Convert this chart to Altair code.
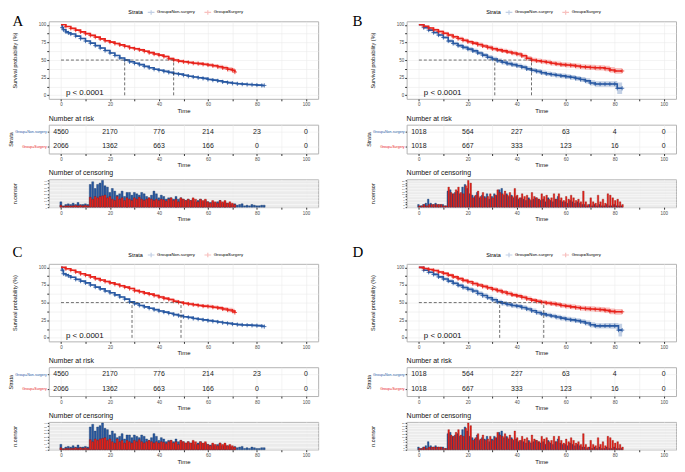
import altair as alt
import pandas as pd

BLUE = "#2A5AA3"
RED = "#E8231C"
GROUPS = ["Group=Non-surgery", "Group=Surgery"]
FONT = "Liberation Sans"
PLUS = "M-1,0L1,0M0,-1L0,1"
LEG_SYM = "M-1,0L1,0M0,-0.7L0,0.7"

# ---------------- Panel A ----------------
A_NS_T = [0, 0.5, 1, 2, 3, 4, 6, 8, 10, 12, 14, 16, 18, 20, 22, 24, 26, 28, 30, 32, 34, 36, 38, 40, 42, 44,
          46, 48, 50, 52, 54, 56, 58, 60, 62, 64, 66, 68, 70, 72, 74, 76, 78, 80, 82, 83]
A_NS_S = [100, 96, 93, 90, 88.5, 87, 84, 80.5, 77, 74, 70.5, 67, 63.5, 60, 56.5, 53, 50, 47.5, 45.5, 43.5, 41,
          39, 37, 35.5, 34, 32.5, 31, 30, 28.5, 27, 26, 25, 24, 22.5, 21.5, 20.5, 19, 18, 17, 16.3, 15.8, 15.3,
          15, 14.5, 14, 14]
A_NS_CI = [0, 0.6, 0.7, 0.8, 0.8, 0.9, 0.9, 1, 1, 1, 1, 1, 1, 1.1, 1.1, 1.1, 1.1, 1.1, 1.1, 1.1, 1.1, 1.1, 1.1,
           1.1, 1.1, 1.1, 1.1, 1.1, 1.1, 1.1, 1.1, 1.2, 1.2, 1.2, 1.2, 1.2, 1.3, 1.3, 1.3, 1.4, 1.4, 1.5, 1.5,
           1.6, 1.8, 1.8]
A_S_T = [0, 2, 4, 6, 8, 10, 12, 14, 16, 18, 20, 22, 24, 26, 28, 30, 32, 34, 36, 38, 40, 42, 44, 46, 48, 50,
         52, 54, 56, 58, 60, 62, 64, 66, 68, 70, 71]
A_S_S = [100, 97.5, 95, 92.5, 90, 87.5, 85, 82.5, 80, 77.5, 75.5, 73.5, 71.5, 69.5, 67.5, 66, 64.5, 62.5, 60.5,
         58.5, 57, 55, 52, 50, 48.5, 47.5, 46.5, 45.5, 45, 44, 43, 42, 40.5, 39, 37, 35.5, 33]
A_S_CI = [0, 0.6, 0.8, 0.9, 1, 1.1, 1.2, 1.2, 1.3, 1.3, 1.4, 1.4, 1.4, 1.5, 1.5, 1.5, 1.6, 1.6, 1.6, 1.7, 1.7,
          1.8, 1.8, 1.9, 1.9, 2, 2, 2.1, 2.2, 2.3, 2.4, 2.5, 2.7, 2.9, 3.1, 3.3, 3.5]
A_MEDIANS = [26, 46]

# ---------------- Panel C ----------------
C_NS_T = A_NS_T
C_NS_S = [100, 96, 91, 89.5, 88, 86, 83, 80.5, 78, 75, 72, 69.5, 66.5, 64, 61, 58, 55, 51, 48.5, 46, 44, 42, 40,
          38, 36.5, 35, 33, 31.5, 30, 29, 27.5, 26.5, 25.5, 24.5, 23.5, 22.5, 21.5, 20.5, 19.5, 18.8, 18.3, 18,
          17.7, 17.3, 16.5, 16]
C_NS_CI = A_NS_CI
C_S_T = A_S_T
C_S_S = [100, 98, 96, 93.5, 91, 89, 86.5, 84, 82, 80, 78, 76, 74, 72, 70, 67, 65.5, 63.5, 62, 60, 58, 56, 54.5,
         52, 50.5, 49, 48, 47, 46, 45, 44.5, 43.5, 42.5, 41, 39.5, 38, 36]
C_S_CI = A_S_CI
C_MEDIANS = [29, 49]

# ---------------- Panel B ----------------
B_NS_T = [0, 2, 4, 6, 8, 10, 12, 14, 16, 18, 20, 22, 24, 26, 28, 30, 32, 34, 36, 38, 40, 42, 44, 46, 48, 50,
          52, 54, 56, 58, 60, 62, 64, 66, 68, 70, 72, 74, 76, 78, 80, 81, 83]
B_NS_S = [100, 96, 92.5, 89, 85.5, 82, 77, 73.5, 70.5, 68, 65.5, 63, 60, 57, 54, 51.5, 49, 47, 45, 43.5, 42, 40,
          37.5, 35.5, 34, 32, 30.5, 29.5, 28.5, 27.5, 26.5, 25.5, 24, 22.5, 20.5, 17.5, 16, 16, 16, 16, 16, 10, 10]
B_NS_CI = [0, 1.2, 1.6, 1.9, 2.1, 2.3, 2.5, 2.6, 2.7, 2.8, 2.9, 3, 3, 3.1, 3.1, 3.1, 3.2, 3.2, 3.2, 3.2, 3.2,
           3.2, 3.2, 3.2, 3.2, 3.2, 3.2, 3.2, 3.3, 3.3, 3.3, 3.4, 3.4, 3.5, 3.6, 3.7, 3.8, 3.8, 3.9, 4, 4.2, 8, 8]
B_S_T = [0, 2, 4, 6, 8, 10, 12, 14, 16, 18, 20, 22, 24, 26, 28, 30, 32, 34, 36, 38, 40, 42, 44, 46, 48, 50,
         52, 54, 56, 58, 60, 62, 64, 66, 68, 70, 72, 74, 76, 78, 80, 83]
B_S_S = [100, 98, 95.5, 93, 90.5, 88, 85.5, 83, 80.5, 78, 76, 74, 72, 70, 68, 66, 64.5, 63, 61.5, 60, 58.5, 56,
         52.5, 50, 49, 48, 47, 45.5, 44.5, 43.5, 43, 42.5, 41.5, 40.5, 40, 39.5, 39, 39, 38, 36, 34.5, 34.5]
B_S_CI = [0, 0.9, 1.3, 1.6, 1.8, 2, 2.2, 2.3, 2.4, 2.5, 2.6, 2.7, 2.8, 2.8, 2.9, 2.9, 3, 3, 3, 3.1, 3.1, 3.1,
          3.2, 3.2, 3.2, 3.3, 3.3, 3.3, 3.4, 3.4, 3.4, 3.5, 3.5, 3.6, 3.6, 3.7, 3.7, 3.8, 3.9, 4, 4.1, 4.1]
B_MEDIANS = [31, 46]

# ---------------- Panel D ----------------
D_NS_T = [0, 2, 4, 6, 8, 10, 12, 14, 16, 18, 20, 22, 24, 26, 28, 30, 32, 34, 36, 38, 40, 42, 44, 46, 48, 50,
          52, 54, 56, 58, 60, 62, 64, 66, 68, 70, 72, 74, 76, 78, 80, 81.5, 83]
D_NS_S = [100, 96, 93, 90, 86.5, 83.5, 80.5, 77.5, 74.5, 71.5, 69, 66.5, 63, 60, 57, 54, 51, 49, 47.5, 46, 45,
          43, 41, 38.5, 36, 34, 32.5, 31, 29.5, 28, 26.5, 25.5, 24.5, 23, 21, 18.5, 17, 17, 17, 17, 17, 11, 11]
D_NS_CI = [0, 1.2, 1.6, 1.9, 2.1, 2.3, 2.5, 2.6, 2.7, 2.8, 2.9, 3, 3, 3.1, 3.1, 3.1, 3.2, 3.2, 3.2, 3.2, 3.2,
           3.2, 3.2, 3.2, 3.2, 3.2, 3.2, 3.2, 3.3, 3.3, 3.3, 3.4, 3.4, 3.5, 3.6, 3.7, 3.8, 3.8, 3.9, 4, 4.2, 9, 9]
D_S_T = B_S_T
D_S_S = [100, 98.5, 97, 95.5, 93.5, 91.5, 89, 86.5, 84, 81.5, 79.5, 77, 75, 73, 71, 69, 67, 65, 63, 61, 59.5,
         57.5, 55.5, 53.5, 52, 50.5, 49.5, 48.5, 47.5, 46, 45, 44, 43, 42, 41.5, 41, 40.5, 40, 39, 37.5, 37, 37]
D_S_CI = B_S_CI
D_MEDIANS = [33, 51]

# ---------------- Number at risk ----------------
RISK_TIMES = [0, 20, 40, 60, 80, 100]
AC_RISK_NS = [4560, 2170, 776, 214, 23, 0]
AC_RISK_S = [2066, 1362, 663, 166, 0, 0]
BD_RISK_NS = [1018, 564, 227, 63, 4, 0]
BD_RISK_S = [1018, 667, 333, 123, 16, 0]

# ---------------- Number of censoring (per month, from month 0) ----------------
AC_CENS_NS = [8, 2, 4, 5, 4, 6, 4, 7, 4, 4, 5, 4,
              34, 38, 28, 34, 36, 40, 32, 30, 22, 28, 24, 18,
              20, 24, 16, 22, 22, 18, 22, 20, 18, 22, 20, 16,
              14, 18, 24, 20, 14, 18, 16, 12, 14, 14, 12, 16,
              12, 14, 12, 10, 12, 10, 12, 8, 10, 12, 8, 10,
              8, 7, 8, 6, 8, 10, 6, 8, 6, 5, 4, 5,
              3, 4, 5, 2, 3, 2, 4, 3, 2, 2, 3, 3]
AC_CENS_S = [3, 1, 2, 2, 2, 2, 3, 2, 3, 2, 3, 2,
             15, 12, 16, 14, 16, 17, 18, 14, 16, 12, 10, 16,
             12, 14, 10, 14, 12, 10, 14, 12, 15, 12, 10, 12,
             14, 12, 10, 12, 10, 12, 11, 9, 12, 14, 10, 12,
             8, 14, 12, 10, 12, 10, 14, 12, 8, 12, 10, 12,
             8, 6, 10, 8, 6, 10, 8, 10, 6, 8, 6, 4]
BD_CENS_NS = [2, 1, 2, 3, 6, 3, 2, 3, 2, 2, 2, 1,
              12, 13, 10, 11, 12, 10, 15, 17, 14, 10, 9, 8,
              11, 7, 9, 8, 10, 6, 8, 10, 9, 13, 14, 9,
              10, 8, 9, 7, 8, 6, 7, 6, 5, 7, 5, 6,
              7, 6, 5, 6, 4, 7, 5, 4, 6, 8, 5, 4,
              4, 3, 5, 4, 3, 4, 3, 2, 2, 1, 2, 1,
              2, 1, 2, 1, 1, 2, 1, 1, 2, 1, 1, 1]
BD_CENS_S = [1, 1, 2, 1, 2, 2, 2, 2, 2, 2, 1, 1,
             15, 11, 10, 13, 15, 11, 10, 16, 20, 18, 7, 9,
             12, 8, 11, 7, 8, 10, 7, 9, 13, 11, 10, 12,
             9, 11, 8, 14, 9, 7, 10, 8, 9, 6, 11, 8,
             7, 6, 10, 8, 9, 6, 7, 10, 6, 10, 7, 5,
             8, 6, 9, 7, 5, 6, 4, 12, 4, 2, 7, 4,
             3, 9, 4, 6, 3, 10, 9, 7, 5, 6, 4, 2]

W = 271
H_KM = 78
H_RISK = 29
H_CENS = 28

XSCALE = alt.Scale(domain=[-5, 105], nice=False, zero=False)
YSCALE = alt.Scale(domain=[-5, 105], nice=False, zero=False)
X_VALUES = [0, 10, 20, 30, 40, 50, 60, 70, 80, 90, 100]
COLOR_SCALE = alt.Scale(domain=GROUPS, range=[BLUE, RED])


def x_axis():
    return alt.Axis(values=X_VALUES, labelExpr="datum.value % 20 === 0 ? datum.label : ''",
                    title="Time", titlePadding=1, labelOverlap=False)


def km_yaxis():
    return alt.Axis(values=[0, 12.5, 25, 37.5, 50, 62.5, 75, 87.5, 100],
                    labelExpr="datum.value % 25 === 0 ? datum.label : ''", labelOverlap=False,
                    title="Survival probability (%)", titleFontSize=5.5, titlePadding=21)


def km_frame(t, s, ci, g):
    return pd.DataFrame({
        "time": t, "surv": s,
        "lo": [max(a - b, 0) for a, b in zip(s, ci)],
        "hi": [min(a + b, 100) for a, b in zip(s, ci)],
        "group": g,
    })


def KX(field, **kw):
    return alt.X(field, scale=XSCALE, axis=x_axis(), title="Time", **kw)


def KY(field, **kw):
    return alt.Y(field, scale=YSCALE, axis=km_yaxis(), title="Survival probability (%)", **kw)


def km_chart(letter, ns, su, medians, dx, toff):
    df = pd.concat([ns, su], ignore_index=True)
    base = alt.Chart(df)
    legend = alt.Legend(title="Strata", orient="none", legendX=80, legendY=-13, direction="horizontal",
                        titleOrient="left", titleFontSize=5.5, titleFontWeight="normal", labelFontSize=4.3,
                        symbolType=LEG_SYM, symbolSize=45, symbolStrokeWidth=1.2, columnPadding=6,
                        titlePadding=4, labelOffset=2)
    color = alt.Color("group:N", scale=COLOR_SCALE, legend=legend, title="Strata")
    band = base.mark_area(opacity=0.28, interpolate="step-after").encode(
        x=KX("time:Q"), y=KY("lo:Q"), y2="hi:Q", color=color)
    line = base.mark_line(interpolate="step-after", strokeWidth=1.6).encode(
        x=KX("time:Q"), y=KY("surv:Q"), color=color)
    pts = base.transform_filter("datum.time > 0").mark_point(
        shape=PLUS, filled=False, size=18, strokeWidth=0.8, opacity=1).encode(
        x=KX("time:Q"), y=KY("surv:Q"), color=color)
    med = pd.DataFrame({"median": medians})
    hrule = alt.Chart(med).transform_aggregate(m="max(median)").transform_calculate(
        x0="0", y50="50").mark_rule(strokeDash=[3, 2], color="#333", strokeWidth=0.7).encode(
        x=KX("x0:Q"), x2="m:Q", y=KY("y50:Q"))
    vrule = alt.Chart(med).transform_calculate(y0="0", y50="50").mark_rule(
        strokeDash=[3, 2], color="#333", strokeWidth=0.7).encode(
        x=KX("median:Q"), y=KY("y0:Q"), y2="y50:Q")
    ptxt = alt.Chart(pd.DataFrame({"label": ["p < 0.0001"], "px": [2], "py": [3]})).mark_text(
        align="left", baseline="middle", fontSize=8, color="#111").encode(
        x=KX("px:Q"), y=KY("py:Q"), text="label:N")
    return alt.layer(band, line, pts, hrule, vrule, ptxt).properties(
        width=W, height=H_KM,
        title=alt.TitleParams(letter, anchor="start", frame="bounds", font="Liberation Serif", fontSize=15,
                              fontWeight="normal", color="#000", dx=dx, offset=toff))


def risk_chart(ns, su):
    rows = []
    for g, vals in zip(GROUPS, [ns, su]):
        for t, v in zip(RISK_TIMES, vals):
            rows.append({"time": t, "group": g, "n": str(v)})
    df = pd.DataFrame(rows)
    return alt.Chart(df).mark_text(fontSize=7, color="#222").encode(
        x=alt.X("time:Q", scale=XSCALE, axis=x_axis(), title="Time"),
        y=alt.Y("group:N", sort=GROUPS, title="Strata",
                axis=alt.Axis(labelColor={"expr": "datum.value == 'Group=Surgery' ? '%s' : '%s'" % (RED, BLUE)},
                              labelFontSize=3.6, titleFontSize=5.5, titlePadding=1, tickSize=1.5, grid=True)),
        text="n:N",
    ).properties(width=W, height=H_RISK,
                 title=alt.TitleParams("Number at risk", anchor="start", frame="group", fontSize=7,
                                       fontWeight="normal", color="#111", offset=3))


def cens_chart(ns, su, dodge):
    d_ns = pd.DataFrame({"time": list(range(len(ns))), "n": ns})
    d_su = pd.DataFrame({"time": list(range(len(su))), "n": su})
    ymax = max(max(ns), max(su)) * 1.04
    ysc = alt.Scale(domain=[0, ymax], nice=False)
    yax = alt.Axis(labelFontSize=2.5, tickCount=10, tickSize=1.5, titleFontSize=5.5, titlePadding=26,
                   gridColor="#ffffff", labelColor="#555", labelOverlap=False)
    if dodge:
        e_ns = ("datum.time - 0.5", "datum.time + 0.15")
        e_su = ("datum.time - 0.15", "datum.time + 0.5")
    else:
        e_ns = ("datum.time - 0.45", "datum.time + 0.35")
        e_su = ("datum.time - 0.45", "datum.time + 0.35")
    b1 = alt.Chart(d_ns).transform_calculate(xa=e_ns[0], xb=e_ns[1]).mark_bar(
        color=BLUE, stroke="#0d2f5e", strokeWidth=0.35).encode(
        x=alt.X("xa:Q", scale=XSCALE, axis=x_axis(), title="Time"), x2="xb:Q",
        y=alt.Y("n:Q", scale=ysc, axis=yax, title="n.censor"), y2=alt.Y2(datum=0))
    b2 = alt.Chart(d_su).transform_calculate(xa=e_su[0], xb=e_su[1]).mark_bar(
        color=RED, stroke="#7a0d08", strokeWidth=0.3).encode(
        x=alt.X("xa:Q", scale=XSCALE, axis=x_axis(), title="Time"), x2="xb:Q",
        y=alt.Y("n:Q", scale=ysc, axis=yax, title="n.censor"), y2=alt.Y2(datum=0))
    return alt.layer(b1, b2).properties(
        width=W, height=H_CENS, view=alt.ViewBackground(fill="#EBEBEB", stroke="#b3b3b3"),
        title=alt.TitleParams("Number of censoring", anchor="start", frame="group", fontSize=7,
                              fontWeight="normal", color="#111", offset=3))


def panel(letter, ns, su, medians, rns, rsu, cns, csu, dodge, dx, toff):
    p = alt.vconcat(km_chart(letter, ns, su, medians, dx, toff), risk_chart(rns, rsu),
                    cens_chart(cns, csu, dodge), spacing=26, bounds="flush")
    return p.resolve_scale(color="independent", x="independent", y="independent").resolve_legend(
        color="independent")


pA = panel("A", km_frame(A_NS_T, A_NS_S, A_NS_CI, GROUPS[0]), km_frame(A_S_T, A_S_S, A_S_CI, GROUPS[1]),
           A_MEDIANS, AC_RISK_NS, AC_RISK_S, AC_CENS_NS, AC_CENS_S, False, 0, -21)
pB = panel("B", km_frame(B_NS_T, B_NS_S, B_NS_CI, GROUPS[0]), km_frame(B_S_T, B_S_S, B_S_CI, GROUPS[1]),
           B_MEDIANS, BD_RISK_NS, BD_RISK_S, BD_CENS_NS, BD_CENS_S, True, -18, -21)
pC = panel("C", km_frame(C_NS_T, C_NS_S, C_NS_CI, GROUPS[0]), km_frame(C_S_T, C_S_S, C_S_CI, GROUPS[1]),
           C_MEDIANS, AC_RISK_NS, AC_RISK_S, AC_CENS_NS, AC_CENS_S, False, 0, -9)
pD = panel("D", km_frame(D_NS_T, D_NS_S, D_NS_CI, GROUPS[0]), km_frame(D_S_T, D_S_S, D_S_CI, GROUPS[1]),
           D_MEDIANS, BD_RISK_NS, BD_RISK_S, BD_CENS_NS, BD_CENS_S, True, -18, -9)

row1 = alt.hconcat(pA, pB, spacing=32).resolve_scale(color="independent").resolve_legend(color="independent")
row2 = alt.hconcat(pC, pD, spacing=32).resolve_scale(color="independent").resolve_legend(color="independent")

chart = alt.vconcat(row1, row2, spacing=22).resolve_scale(color="independent").resolve_legend(
    color="independent").properties(padding={"left": 0, "top": -2, "right": 0, "bottom": 0}).configure(
    font=FONT).configure_axis(
    domain=False, tickColor="#333", tickSize=2, labelColor="#4d4d4d", labelFontSize=4.5, titleFontSize=6,
    titleFontWeight="normal", titleColor="#111", gridColor="#ebebeb", gridWidth=0.6, labelPadding=1,
).configure_view(stroke="#b3b3b3", strokeWidth=1).configure_title(font=FONT)

chart.save("out.html", embed_options={"renderer": "svg", "actions": False})
